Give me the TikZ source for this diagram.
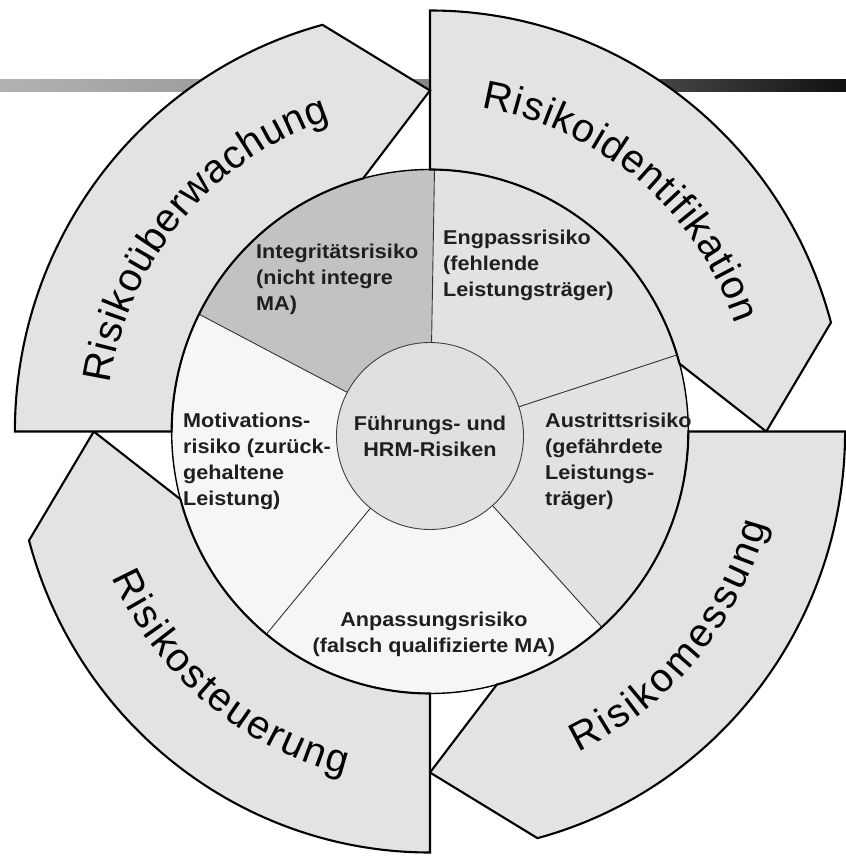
\documentclass[tikz,border=0pt]{standalone}
\usepackage{fontspec}
\setmainfont{Liberation Sans}
\newfontfamily\innerfont[FakeStretch=1.08]{Liberation Sans}
\usetikzlibrary{decorations.text}
\definecolor{ringfill}{HTML}{E3E3E3}
\definecolor{darksec}{HTML}{C2C2C2}
\definecolor{midsec}{HTML}{E2E2E2}
\definecolor{lightsec}{HTML}{F6F6F6}
\definecolor{hubfill}{HTML}{E0E0E0}
\definecolor{barleft}{HTML}{B2B2B2}
\definecolor{barmid}{HTML}{888888}
\definecolor{barright}{HTML}{111111}
\newcommand\ringfont{\fontsize{40}{44}\selectfont}
\begin{document}
\begin{tikzpicture}[x=0.986pt,y=1pt,
  ringseg/.style={fill=ringfill, draw=black, line width=2.1pt, line join=miter},
  secline/.style={draw=black!80, line width=0.9pt},
  innertext/.style={font=\innerfont\bfseries\fontsize{20}{26}\selectfont, align=left, inner sep=0pt, text=black!88},
  ringlabel/.style={decorate, decoration={text along path, text align=fit to path, raise=-13pt, text={#1}}}
]
\useasboundingbox (-436.1,431.5) rectangle (421.9,-426.5);
% top bar
\shade[left color=barleft, right color=barright, middle color=barmid] (-436.1,351.5) rectangle (421.9,339.5);
\coordinate (O) at (0,0);
\coordinate (hc) at (0,-4.5);
% sectors
\fill[darksec] (hc) -- (89:262) arc[start angle=89, end angle=153.4, radius=262] -- cycle;
\fill[lightsec] (hc) -- (153.4:262) arc[start angle=153.4, end angle=230.7, radius=262] -- cycle;
\fill[lightsec] (hc) -- (230.7:262) arc[start angle=230.7, end angle=311.7, radius=262] -- cycle;
\fill[midsec] (hc) -- (311.7:262) arc[start angle=311.7, end angle=377, radius=262] -- cycle;
\fill[midsec] (hc) -- (17:262) arc[start angle=17, end angle=89, radius=262] -- cycle;
% hub
\node[circle, draw=black!75, fill=hubfill, line width=0.9pt, minimum size=187pt, inner sep=0pt,
      font=\innerfont\bfseries\fontsize{20}{26}\selectfont, align=center, text=black!88] (hub) at (hc) {Führungs- und\\HRM-Risiken};
\coordinate (p1) at (89:262);
\coordinate (p2) at (17:262);
\coordinate (p3) at (311.7:262);
\coordinate (p4) at (230.7:262);
\coordinate (p5) at (153.4:262);
\draw[secline] (hub) -- (p1);
\draw[secline] (hub) -- (p2);
\draw[secline] (hub) -- (p3);
\draw[secline] (hub) -- (p4);
\draw[secline] (hub) -- (p5);
\draw[line width=1.4pt] (O) circle[radius=262];
% outer ring segments
\draw[ringseg] (90:262) -- (90:421) arc[start angle=90, end angle=15, radius=421] -- (0:341) -- (15:262) arc[start angle=15, end angle=90, radius=262] -- cycle;
\draw[ringseg] (0:262) -- (0:421) arc[start angle=0, end angle=-75, radius=421] -- (-90:341) -- (-75:262) arc[start angle=-75, end angle=0, radius=262] -- cycle;
\draw[ringseg] (270:262) -- (270:421) arc[start angle=270, end angle=195, radius=421] -- (180:341) -- (195:262) arc[start angle=195, end angle=270, radius=262] -- cycle;
\draw[ringseg] (180:262) -- (180:421) arc[start angle=180, end angle=105, radius=421] -- (90:341) -- (105:262) arc[start angle=105, end angle=180, radius=262] -- cycle;
% ring labels
\path[ringlabel={|\ringfont|Risikoüberwachung}] (171.5:341) arc[start angle=171.5, end angle=108.1, radius=341];
\path[ringlabel={|\ringfont|Risikoidentifikation}] (80.7:341) arc[start angle=80.7, end angle=19.1, radius=341];
\path[ringlabel={|\ringfont|Risikomessung}] (-64.9:341) arc[start angle=-64.9, end angle=-15.1, radius=341];
\path[ringlabel={|\ringfont|Risikosteuerung}] (204.3:341) arc[start angle=204.3, end angle=256, radius=341];
% inner texts
\node[innertext, anchor=north west] (integ) at (-176.5,187.5) {Integritätsrisiko\\(nicht integre\\MA)};
\node[innertext, anchor=north west] (engp) at (13.2,201.5) {Engpassrisiko\\(fehlende\\Leistungsträger)};
\node[innertext, anchor=north west] (motiv) at (-250.5,18.5) {Motivations-\\risiko (zurück-\\gehaltene\\Leistung)};
\node[innertext, anchor=north west] (austr) at (116.6,18.5) {Austrittsrisiko\\(gefährdete\\Leistungs-\\träger)};
\node[innertext, anchor=north, align=center] (anpas) at (4,-180.5) {Anpassungsrisiko\\(falsch qualifizierte MA)};
\end{tikzpicture}
\end{document}
